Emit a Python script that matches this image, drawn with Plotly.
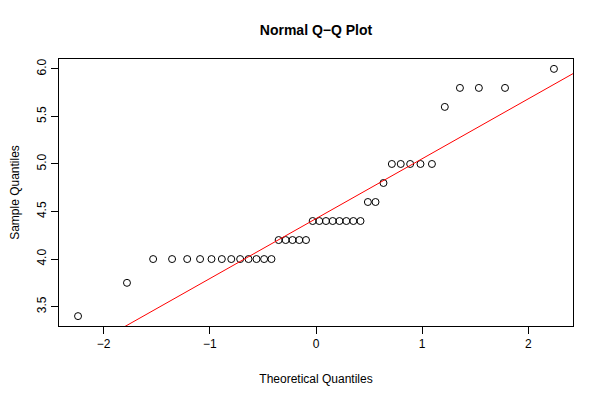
import numpy as np
import plotly.graph_objects as go

# Theoretical normal quantiles (n = 40)
theoretical = [-2.2414, -1.7805, -1.5341, -1.3557, -1.2133, -1.0920, -0.9842, -0.8871,
               -0.7980, -0.7144, -0.6356, -0.5607, -0.4888, -0.4193, -0.3518, -0.2858,
               -0.2211, -0.1573, -0.0941, -0.0313, 0.0313, 0.0941, 0.1573, 0.2211,
               0.2858, 0.3518, 0.4193, 0.4888, 0.5607, 0.6356, 0.7144, 0.7980,
               0.8871, 0.9842, 1.0920, 1.2133, 1.3557, 1.5341, 1.7805, 2.2414]
# Sorted sample values
sample = [3.4, 3.75] + [4.0] * 12 + [4.2] * 5 + [4.4] * 8 + [4.6] * 2 + [4.8] + \
         [5.0] * 5 + [5.6] + [5.8] * 3 + [6.0]

x_ticks = [-2, -1, 0, 1, 2]
y_ticks = [3.5, 4.0, 4.5, 5.0, 5.5, 6.0]

# qqline through the quartiles
q1, q3 = np.percentile(sample, [25, 75])
z = 0.6744898
slope = (q3 - q1) / (2 * z)
intercept = q1 + z * slope
line_x = [-3.0, 3.0]
line_y = [intercept + slope * v for v in line_x]

xr = [min(theoretical), max(theoretical)]
xpad = (xr[1] - xr[0]) * 0.04
yr = [min(sample), max(sample)]
ypad = (yr[1] - yr[0]) * 0.04

fig = go.Figure()
fig.add_trace(go.Scatter(x=theoretical, y=sample, mode="markers",
                         marker=dict(symbol="circle-open", size=7,
                                     color="black", line=dict(width=1)),
                         showlegend=False, hoverinfo="skip"))
fig.add_trace(go.Scatter(x=line_x, y=line_y, mode="lines",
                         line=dict(color="red", width=1),
                         showlegend=False, hoverinfo="skip"))

font = "Liberation Sans, Arial, Helvetica, sans-serif"
fig.update_layout(
    width=600, height=400,
    margin=dict(l=51, r=35, t=51, b=82, autoexpand=False),
    paper_bgcolor="white", plot_bgcolor="white",
    font=dict(family=font, size=12, color="black"),
    title=dict(text="<b>Normal Q\u2212Q Plot</b>", x=(51 + 565) / 2 / 600, xanchor="center",
               y=1 - 22 / 400, yanchor="middle", font=dict(size=14)),
    xaxis=dict(range=[xr[0] - xpad, xr[1] + xpad], tickvals=x_ticks,
               ticktext=[("\u2212" if v < 0 else "") + str(abs(v)) for v in x_ticks],
               showgrid=False, zeroline=False, showline=True, linecolor="black",
               linewidth=1, mirror=True, ticks="outside", ticklen=7,
               tickcolor="black", tickfont=dict(size=12),
               title=dict(text="Theoretical Quantiles", standoff=24,
                          font=dict(size=12))),
    yaxis=dict(range=[yr[0] - ypad, yr[1] + ypad], tickvals=y_ticks,
               ticktext=["%.1f" % v for v in y_ticks], tickangle=-90,
               showgrid=False, zeroline=False, showline=True, linecolor="black",
               linewidth=1, mirror=True, ticks="outside", ticklen=7,
               tickcolor="black", tickfont=dict(size=12),
               title=dict(text="Sample Quantiles", standoff=16,
                          font=dict(size=12))),
)
fig.write_html("out.html")
